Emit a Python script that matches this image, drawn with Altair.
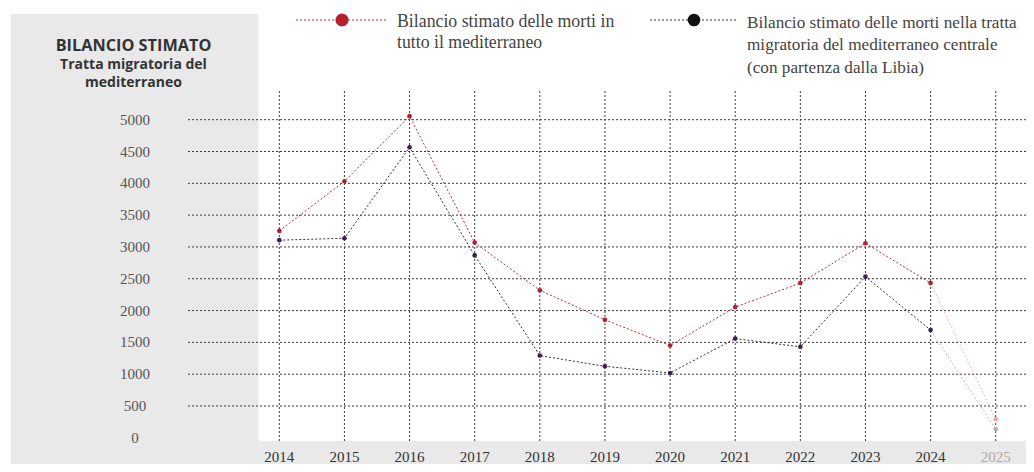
import altair as alt
import pandas as pd

# ---- data ----
years = list(range(2014, 2026))
total_med = [3252, 4032, 5055, 3068, 2319, 1855, 1451, 2054, 2432, 3058, 2432, 292]
central_med = [3106, 3137, 4565, 2867, 1292, 1124, 1019, 1559, 1430, 2533, 1693, 136]
y_ticks = [0, 500, 1000, 1500, 2000, 2500, 3000, 3500, 4000, 4500, 5000]
grid_vals = [500, 1000, 1500, 2000, 2500, 3000, 3500, 4000, 4500, 5000]

series_total = "Bilancio stimato delle morti in tutto il mediterraneo"
series_central = "Bilancio stimato delle morti nella tratta migratoria del mediterraneo centrale (con partenza dalla Libia)"
legend_total = ["Bilancio stimato delle morti in", "tutto il mediterraneo"]
legend_central = ["Bilancio stimato delle morti nella tratta",
                  "migratoria  del  mediterraneo  centrale",
                  "(con partenza dalla Libia)"]
title_lines = ["BILANCIO STIMATO"]
subtitle_lines = ["Tratta migratoria del", "mediterraneo"]

# ---- styling ----
W, H = 1018, 456
OX, OY = 8, 8
def px(x):
    return x - OX
def py(y):
    return y - OY

RED_LINE, RED_PT, RED_FADE = "#c42a3a", "#b51f2e", "#f2a2a6"
BLK_LINE, BLK_PT, BLK_FADE = "#333333", "#3d2150", "#b9abc6"
GRID = "#3a3a3a"
PANEL = "#e9e9e9"
SERIF = "Liberation Serif"
SANS = "Open Sans"

xscale = alt.Scale(domain=[2009.8344, 2025.4648], nice=False, zero=False)
yscale = alt.Scale(domain=[-411.8, 6755.7], nice=False, zero=False)

rows = []
for yr, a, b in zip(years, total_med, central_med):
    rows.append({"year": yr, "series": series_total, "value": a,
                 "lc": RED_LINE, "pc": RED_PT if yr < 2025 else RED_FADE})
    rows.append({"year": yr, "series": series_central, "value": b,
                 "lc": BLK_LINE, "pc": BLK_PT if yr < 2025 else BLK_FADE})
df = pd.DataFrame(rows)
one = pd.DataFrame({"k": [0]})
grid_df = pd.DataFrame({"v": grid_vals})
ytick_df = pd.DataFrame({"v": y_ticks, "label": [str(v) for v in y_ticks]})
xtick_df = pd.DataFrame({"year": years, "label": [str(y) for y in years],
                         "col": ["#333333"] * (len(years) - 1) + ["#aaaaaa"]})

X = alt.X("year:Q", scale=xscale, axis=None)
Y = alt.Y("value:Q", scale=yscale, axis=None)

panel_left = alt.Chart(one).mark_rect(color=PANEL).encode(
    x=alt.value(px(11)), x2=alt.value(px(258.5)), y=alt.value(py(14)), y2=alt.value(H))
panel_bottom = alt.Chart(one).mark_rect(color=PANEL).encode(
    x=alt.value(px(258.5)), x2=alt.value(W), y=alt.value(py(441)), y2=alt.value(H))

hgrid = alt.Chart(grid_df).mark_rule(color=GRID, strokeDash=[2, 2], strokeWidth=1).encode(
    y=alt.Y("v:Q", scale=yscale, axis=None), x=alt.value(px(188)), x2=alt.value(W))
vgrid = alt.Chart(xtick_df).mark_rule(color=GRID, strokeDash=[2, 2], strokeWidth=1).encode(
    x=X, y=alt.value(py(91)), y2=alt.value(py(441)))

ylabels = alt.Chart(ytick_df).mark_text(font=SERIF, fontSize=15, color="#555555",
                                        align="center", baseline="middle").encode(
    y=alt.Y("v:Q", scale=yscale, axis=None), x=alt.value(px(135)), text="label:N")
xlabels = alt.Chart(xtick_df).mark_text(font=SERIF, fontSize=15,
                                        align="center", baseline="middle").encode(
    x=X, y=alt.value(py(457)), text="label:N", color=alt.Color("col:N", scale=None))

lines_main = alt.Chart(df).transform_filter("datum.year <= 2024").mark_line(
    strokeDash=[2, 2], strokeWidth=1).encode(
    x=X, y=Y, detail="series:N", color=alt.Color("lc:N", scale=None))
lines_fade = alt.Chart(df).transform_filter("datum.year >= 2024").mark_line(
    strokeDash=[2, 2], strokeWidth=1, opacity=0.35).encode(
    x=X, y=Y, detail="series:N", color=alt.Color("lc:N", scale=None))
points = alt.Chart(df).mark_circle(size=22, opacity=1).encode(
    x=X, y=Y, color=alt.Color("pc:N", scale=None))

# ---- legend ----
leg1_line = alt.Chart(one).mark_rule(color=RED_LINE, strokeDash=[2, 2], strokeWidth=1).encode(
    x=alt.value(px(296)), x2=alt.value(px(388)), y=alt.value(py(20)))
leg1_dot = alt.Chart(one).mark_circle(size=170, color=RED_PT, opacity=1).encode(
    x=alt.value(px(342)), y=alt.value(py(20)))
leg1_text = alt.Chart(one).mark_text(text=legend_total, font=SERIF, fontSize=17.8, color="#444444",
                                     align="left", baseline="alphabetic", lineHeight=21).encode(
    x=alt.value(px(397)), y=alt.value(py(27)))
leg2_line = alt.Chart(one).mark_rule(color=BLK_LINE, strokeDash=[2, 2], strokeWidth=1).encode(
    x=alt.value(px(650)), x2=alt.value(px(737)), y=alt.value(py(20)))
leg2_dot = alt.Chart(one).mark_circle(size=160, color="#111111", opacity=1).encode(
    x=alt.value(px(694)), y=alt.value(py(20)))
leg2_text = alt.Chart(one).mark_text(text=legend_central, font=SERIF, fontSize=17.2, color="#444444",
                                     align="left", baseline="alphabetic", lineHeight=22.5).encode(
    x=alt.value(px(747)), y=alt.value(py(27.5)))

# ---- left panel title ----
title = alt.Chart(one).mark_text(text=title_lines[0], font=SANS, fontSize=16.3, fontWeight="bold",
                                 color="#333333", align="center", baseline="alphabetic").encode(
    x=alt.value(px(133.5)), y=alt.value(py(50.5)))
subtitle = alt.Chart(one).mark_text(text=subtitle_lines, font=SANS, fontSize=14, fontWeight="bold",
                                    color="#333333", align="center", baseline="alphabetic",
                                    lineHeight=18).encode(
    x=alt.value(px(133.5)), y=alt.value(py(68.5)))

chart = alt.layer(
    panel_left, panel_bottom, hgrid, vgrid, ylabels, xlabels,
    lines_main, lines_fade, points,
    leg1_line, leg1_dot, leg1_text, leg2_line, leg2_dot, leg2_text,
    title, subtitle,
).properties(
    width=W, height=H,
    autosize=alt.AutoSizeParams(type="none"),
    padding=0,
).configure_view(stroke=None)

chart.save("out.html", embed_options={"renderer": "svg", "actions": False})
